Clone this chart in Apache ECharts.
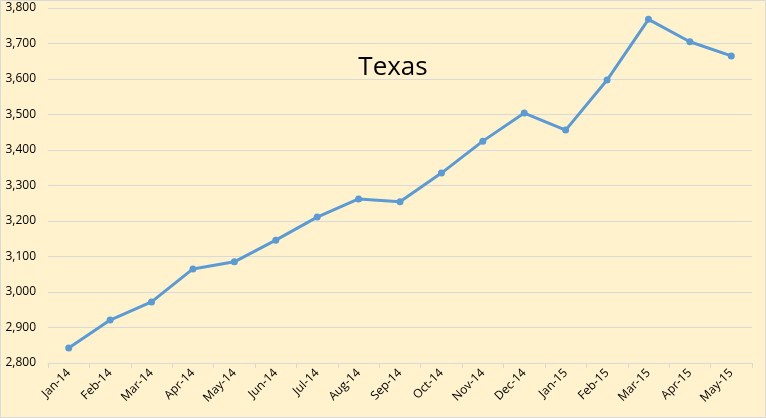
<!DOCTYPE html>
<html><head><meta charset="utf-8">
<script src="https://cdn.jsdelivr.net/npm/echarts@6/dist/echarts.min.js"></script>
<style>html,body{margin:0;padding:0;background:#FFF2CC;}#c{width:766px;height:418px;}</style>
</head><body><div id="c"></div>
<script>
var categories = ["Jan-14","Feb-14","Mar-14","Apr-14","May-14","Jun-14","Jul-14","Aug-14","Sep-14","Oct-14","Nov-14","Dec-14","Jan-15","Feb-15","Mar-15","Apr-15","May-15"];
var values = [2842,2921,2972,3065,3085,3146,3211,3262,3254,3335,3425,3504,3456,3597,3768,3705,3665];
var chartTitle = "Texas";
var chart = echarts.init(document.getElementById('c'));
chart.setOption({
  backgroundColor: '#FFF2CC',
  animation: false,
  title: {text: chartTitle, left: 388, top: 50, textAlign: 'center',
    textStyle: {fontFamily: 'Open Sans', fontSize: 26, fontWeight: 'normal', color: '#000'}},
  grid: {left: 48, right: 14, top: 8, bottom: 55},
  graphic: [{type: 'rect', shape: {x: 0.5, y: 0.5, width: 765, height: 417},
    style: {fill: 'none', stroke: '#D9D9D9', lineWidth: 1}, silent: true}],
  xAxis: {type: 'category', data: categories, boundaryGap: true,
    axisLine: {lineStyle: {color: '#D9D9D9', width: 1}},
    axisTick: {show: true, alignWithLabel: false, length: 5, lineStyle: {color: '#D9D9D9'}},
    axisLabel: {rotate: 45, interval: 0, fontFamily: 'Open Sans', fontSize: 12, color: '#000', margin: 8}},
  yAxis: {type: 'value', min: 2800, max: 3800, interval: 100,
    axisLine: {show: false}, axisTick: {show: false},
    splitLine: {lineStyle: {color: '#D9D9D9', width: 1}},
    axisLabel: {fontFamily: 'Open Sans', fontSize: 12, color: '#000', margin: 12,
      formatter: function (v) { return v.toLocaleString('en-US'); }}},
  series: [{type: 'line', data: values, symbol: 'circle', symbolSize: 7,
    lineStyle: {color: '#5B9BD5', width: 3}, itemStyle: {color: '#5B9BD5'}}]
});
</script></body></html>
